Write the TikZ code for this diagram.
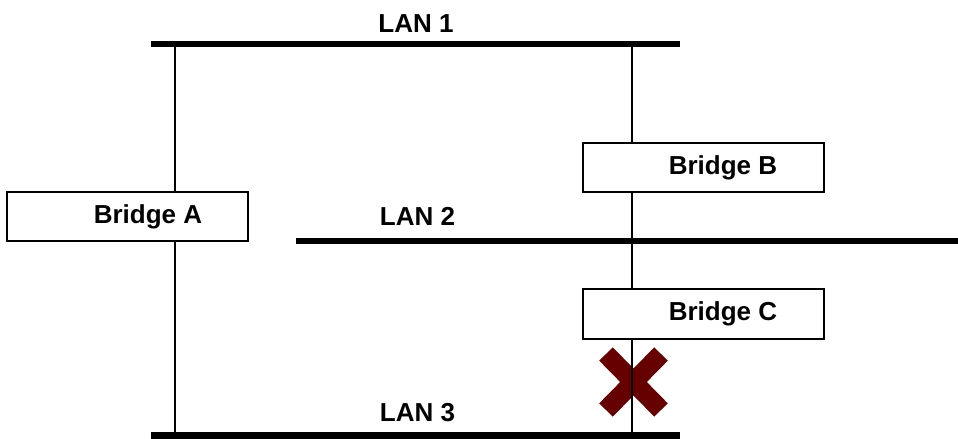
\documentclass[tikz,border=0pt]{standalone}
\usepackage{fontspec}
\setmainfont{Liberation Sans}
\definecolor{xred}{HTML}{660000}
\begin{document}
\begin{tikzpicture}[x=1bp,y=-1bp,
  lan/.style={line width=6.5bp},
  wire/.style={line width=1.5bp},
  bridge/.style={draw, line width=2bp, rectangle, inner sep=0pt, font=\fontsize{26bp}{30bp}\selectfont\bfseries},
  lanlabel/.style={inner sep=0pt, font=\fontsize{26bp}{30bp}\selectfont\bfseries},
  xmark/.style={draw=xred, line width=19bp}
]
\useasboundingbox (0,0) rectangle (958,439);
% X mark (under the wire)
\coordinate (x1) at (606,354); \coordinate (x2) at (661,410);
\coordinate (x3) at (661,354); \coordinate (x4) at (606,410);
\draw[xmark] (x1) -- (x2);
\draw[xmark] (x3) -- (x4);
% LAN ends
\coordinate (l1a) at (151,44);  \coordinate (l1b) at (680,44);
\coordinate (l2a) at (296,241); \coordinate (l2b) at (958,241);
\coordinate (l3a) at (151,435.5); \coordinate (l3b) at (680,435.5);
\coordinate (A1) at (175,44);   \coordinate (A3) at (175,435.5);
\coordinate (B1) at (632,44);   \coordinate (C3) at (632,435.5);
\draw[lan] (l1a) -- (l1b);
\draw[lan] (l2a) -- (l2b);
\draw[lan] (l3a) -- (l3b);
% labels
\node[lanlabel] (t1) at (416,24) {LAN 1};
\node[lanlabel] (t2) at (417.5,216.5) {LAN 2};
\node[lanlabel] (t3) at (417.5,412.5) {LAN 3};
% bridges
\node[bridge, minimum width=241bp, minimum height=49bp] (A) at (127.5,216.5) {\hspace*{41bp}Bridge A};
\node[bridge, minimum width=241bp, minimum height=49bp] (B) at (703.5,167.5) {\hspace*{39bp}Bridge B};
\node[bridge, minimum width=241bp, minimum height=50bp] (C) at (703.5,314) {\hspace*{39bp}Bridge C};
% wires
\draw[wire] (A1) -- (A1 |- A.north);
\draw[wire] (A1 |- A.south) -- (A3);
\draw[wire] (B1) -- (B1 |- B.north);
\draw[wire] (B1 |- B.south) -- (B1 |- C.north);
\draw[wire] (B1 |- C.south) -- (C3);
\end{tikzpicture}
\end{document}
